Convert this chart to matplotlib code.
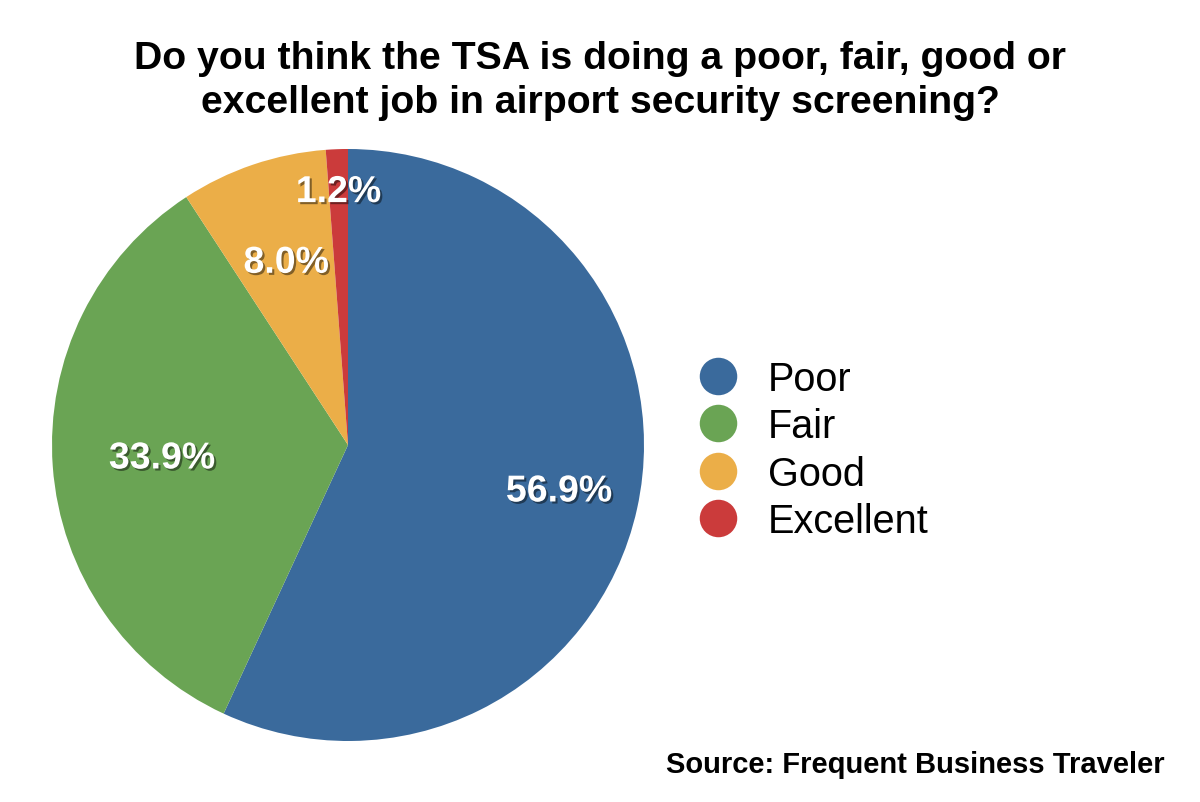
import numpy as np
import matplotlib.pyplot as plt
import matplotlib.patheffects as pe
from matplotlib.lines import Line2D

categories = ["Poor", "Fair", "Good", "Excellent"]
shares = [56.9, 33.9, 8.0, 1.2]
colors = ["#3a6a9c", "#6aa454", "#ebae48", "#cb3b3b"]
label_radius = [0.73, 0.63, 0.65, 0.855]

plt.rcParams["font.family"] = ["Liberation Sans", "DejaVu Sans"]

fig = plt.figure(figsize=(12, 8.03), dpi=100)

# pie axes placed in pixels: centre (348, 446), radius 296
W, H = 1200, 803
cx, cy, r = 348, 446, 296
ax = fig.add_axes([(cx - r) / W, (H - cy - r) / H, 2 * r / W, 2 * r / H])
wedges, _ = ax.pie(shares, colors=colors, startangle=90, counterclock=False,
                   radius=1, wedgeprops=dict(linewidth=0))
ax.set_xlim(-1, 1)
ax.set_ylim(-1, 1)
ax.set_aspect("equal")
ax.axis("off")

shadow = [pe.SimplePatchShadow(offset=(1.5, -1.5), shadow_rgbFace="black", alpha=0.45),
          pe.Normal()]
for w, val, lr in zip(wedges, shares, label_radius):
    mid = np.deg2rad((w.theta1 + w.theta2) / 2)
    ax.text(lr * np.cos(mid), lr * np.sin(mid), f"{val:.1f}%",
            ha="center", va="center", color="white", fontsize=27,
            fontweight="bold", path_effects=shadow)

fig.text(0.5, 1 - 81 / H, "Do you think the TSA is doing a poor, fair, good or\n"
         "excellent job in airport security screening?",
         ha="center", va="center", fontsize=28.3, fontweight="bold",
         linespacing=1.3)

handles = [Line2D([], [], marker="o", linestyle="none", markersize=27,
                  markerfacecolor=c, markeredgewidth=0) for c in colors]
fig.legend(handles, categories, loc="center left",
           bbox_to_anchor=(669 / W, 1 - 451 / H), frameon=False,
           fontsize=28.5, labelspacing=0.24, handletextpad=0.5,
           borderpad=0, handlelength=1.5)

fig.text(1165 / W, 1 - 765 / H, "Source: Frequent Business Traveler",
         ha="right", va="center", fontsize=21, fontweight="bold")

fig.savefig("out.png", dpi=100)
